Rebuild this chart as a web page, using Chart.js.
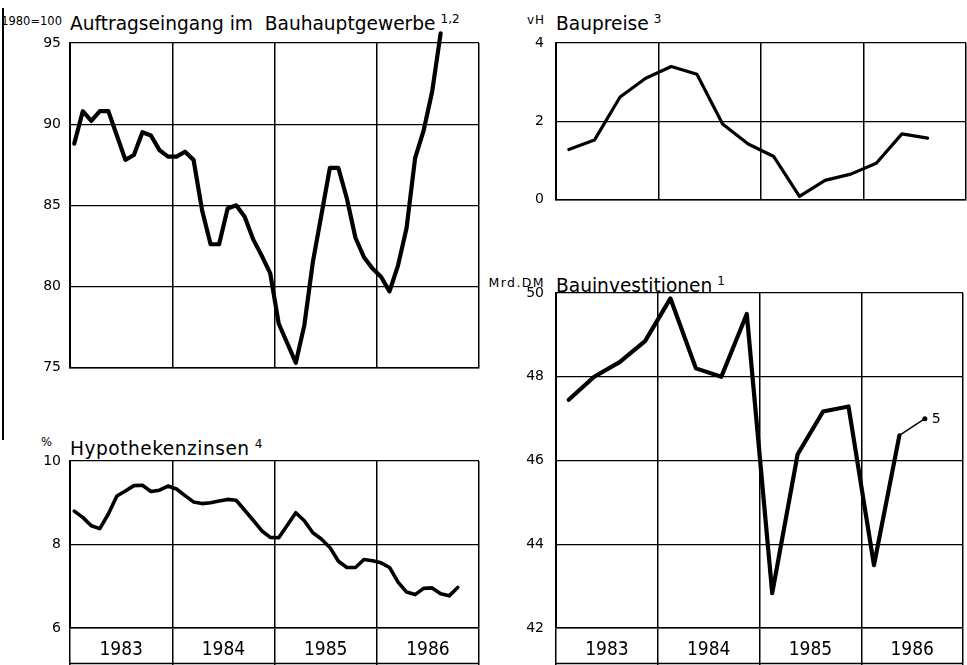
<!DOCTYPE html>
<html>
<head>
<meta charset="utf-8">
<script src="https://cdn.jsdelivr.net/npm/chart.js@4.4.1/dist/chart.umd.min.js"></script>
<style>
  body { margin: 0; background: #fff; width: 967px; height: 665px; position: relative; overflow: hidden; font-family: "DejaVu Sans", sans-serif; color: #000; }
  canvas { position: absolute; }
  .titel { position: absolute; font-size: 18.6px; line-height: 18px; white-space: nowrap; }
  .titel sup { font-size: 12px; vertical-align: 7px; margin-left: 5px; }
  .einheit { position: absolute; font-size: 11.5px; line-height: 11px; text-align: right; white-space: nowrap; }
  .rand { position: absolute; left: 2px; top: 8px; width: 2px; height: 432px; background: #000; }
</style>
</head>
<body>
<div class="rand"></div>

<div class="einheit" style="left:0; width:62px; top:16px;">1980=100</div>
<div class="titel" style="left:70px; top:10px;">Auftragseingang im&nbsp; Bauhauptgewerbe<sup>1,2</sup></div>

<div class="einheit" style="left:500px; width:45px; top:15px; font-size:12px; letter-spacing:1px;">vH</div>
<div class="titel" style="left:556px; top:10px;">Baupreise<sup>3</sup></div>

<div class="einheit" style="left:0; width:52px; top:437px;">%</div>
<div class="titel" style="left:70px; top:435px; letter-spacing:0.5px;">Hypothekenzinsen<sup>4</sup></div>

<div class="einheit" style="left:440px; width:105px; top:277px; font-size:12.5px; letter-spacing:1.4px;">Mrd.DM</div>
<div class="titel" style="left:556px; top:272px;">Bauinvestitionen<sup>1</sup></div>

<canvas id="auftrag" width="485" height="365" style="left:0; top:20px;"></canvas>
<canvas id="preise" width="481" height="200" style="left:486px; top:20px;"></canvas>
<canvas id="zinsen" width="485" height="225" style="left:0; top:440px;"></canvas>
<canvas id="invest" width="481" height="395" style="left:486px; top:270px;"></canvas>

<script>
// Jahre unter den unteren Feldern
const jahre = ['1983', '1984', '1985', '1986'];

// Auftragseingang im Bauhauptgewerbe, 1980=100, monatlich ab Jan 1983
const auftrag = [88.8, 90.8, 90.2, 90.8, 90.8, 89.3, 87.8, 88.1, 89.5, 89.3, 88.4, 88.0,
                 88.0, 88.3, 87.8, 84.7, 82.6, 82.6, 84.8, 85.0, 84.3, 82.9, 81.9, 80.8,
                 77.7, 76.5, 75.3, 77.6, 81.5, 84.4, 87.3, 87.3, 85.4, 83.0, 81.8, 81.1,
                 80.6, 79.7, 81.3, 83.6, 87.9, 89.6, 92.0, 95.6];

// Hypothekenzinsen in %, monatlich
const zinsen = [8.80, 8.65, 8.45, 8.38, 8.73, 9.16, 9.28, 9.41, 9.42, 9.27, 9.30, 9.40,
                9.33, 9.17, 9.02, 8.98, 9.00, 9.04, 9.08, 9.06, 8.82, 8.58, 8.33, 8.17,
                8.16, 8.46, 8.76, 8.57, 8.28, 8.13, 7.93, 7.60, 7.45, 7.45, 7.64, 7.61,
                7.56, 7.45, 7.10, 6.86, 6.80, 6.95, 6.96, 6.82, 6.77, 6.97];

// Baupreise, Veraenderung in vH, vierteljaehrlich
const preise = [1.28, 1.52, 2.62, 3.1, 3.4, 3.2, 1.93, 1.42, 1.1, 0.08, 0.49, 0.65, 0.93, 1.68, 1.57];

// Bauinvestitionen in Mrd. DM, vierteljaehrlich (letzter Wert = Fussnote 5)
const invest = [47.45, 48.0, 48.35, 48.85, 49.87, 48.2, 48.0, 49.5, 42.83, 46.15, 47.17, 47.29, 43.5, 46.6, 47.0];

// Monatswerte in der Monatsmitte, Quartalswerte in der Quartalsmitte
const monate = arr => arr.map((v, i) => ({ x: i + 0.5, y: v }));
const quartale = arr => arr.map((v, i) => ({ x: i * 3 + 1.5, y: v }));

// untere Linie unter der Jahreszeile
const unterkante = {
  id: 'unterkante',
  afterDraw(chart) {
    const x = chart.scales.x;
    if (!chart.options.plugins.unterkante.an) return;
    const ctx = chart.ctx;
    ctx.save();
    ctx.strokeStyle = '#000';
    ctx.lineWidth = 1.5;
    ctx.beginPath();
    ctx.moveTo(x.left, x.bottom - 1.5);
    ctx.lineTo(x.right, x.bottom - 1.5);
    ctx.stroke();
    ctx.restore();
  }
};

// Fussnote "5" am letzten Punkt
const fussnote = {
  id: 'fussnote',
  afterDatasetsDraw(chart) {
    const text = chart.options.plugins.fussnote.text;
    if (!text) return;
    const meta = chart.getDatasetMeta(0);
    const p = meta.data[meta.data.length - 1];
    const ctx = chart.ctx;
    ctx.save();
    ctx.fillStyle = '#000';
    ctx.font = '14px "DejaVu Sans"';
    ctx.textBaseline = 'middle';
    ctx.fillText(text, p.x + 7, p.y + 1);
    ctx.restore();
  }
};

function feld(id, punkte, ymin, ymax, schritt, breite, mitJahren, pad, extra) {
  extra = extra || {};
  const ds = {
    data: punkte,
    borderColor: '#000',
    borderWidth: breite,
    borderJoinStyle: 'round',
    borderCapStyle: 'round',
    pointRadius: 0,
    tension: 0,
    clip: false
  };
  Object.assign(ds, extra.ds || {});
  return new Chart(document.getElementById(id), {
    type: 'line',
    data: { datasets: [ds] },
    plugins: [unterkante, fussnote],
    options: {
      responsive: false,
      animation: false,
      events: [],
      layout: { padding: pad },
      plugins: {
        legend: { display: false },
        tooltip: { enabled: false },
        unterkante: { an: mitJahren },
        fussnote: { text: extra.fussnote || '' }
      },
      scales: {
        x: {
          type: 'linear',
          min: 0,
          max: 48,
          border: { display: true, color: '#000', width: 1.5 },
          grid: {
            color: c => (c.tick && c.tick.value % 12 === 0) ? '#000' : 'rgba(0,0,0,0)',
            lineWidth: 1.5,
            drawTicks: mitJahren,
            tickLength: mitJahren ? 37 : 0
          },
          ticks: {
            display: mitJahren,
            stepSize: 6,
            autoSkip: false,
            maxRotation: 0,
            padding: -26,
            color: '#000',
            font: { family: '"DejaVu Sans Condensed", "DejaVu Sans"', size: 19 },
            callback: v => (v % 12 === 6) ? jahre[(v - 6) / 12] : ''
          },
          afterFit: s => { s.height = mitJahren ? 37 : 0; }
        },
        y: {
          min: ymin,
          max: ymax,
          border: { color: '#000', width: 2 },
          grid: { color: '#000', lineWidth: 1.2, drawTicks: false },
          ticks: {
            stepSize: schritt,
            padding: extra.tickPad || 9,
            color: '#000',
            font: { family: 'DejaVu Sans', size: 14 }
          },
          afterFit: s => { s.width = 70; }
        }
      }
    }
  });
}

feld('auftrag', monate(auftrag), 75, 95, 5, 4.2, false,
     { left: 0, right: 6, top: 23, bottom: 7 });

feld('preise', quartale(preise), 0, 4, 2, 3.2, false,
     { left: 0, right: 1, top: 23, bottom: 10 }, { tickPad: 12 });

feld('zinsen', monate(zinsen), 6, 10, 2, 3.6, true,
     { left: 0, right: 6, top: 21, bottom: 0 });

feld('invest', quartale(invest), 42, 50, 2, 4.2, true,
     { left: 0, right: 1, top: 23, bottom: 0 },
     {
       tickPad: 12,
       fussnote: '5',
       ds: {
         segment: { borderWidth: c => c.p1DataIndex === invest.length - 1 ? 1.5 : 4.2 },
         pointRadius: c => c.dataIndex === invest.length - 1 ? 2.5 : 0,
         pointBackgroundColor: '#000',
         pointBorderWidth: 0
       }
     });
</script>
</body>
</html>
